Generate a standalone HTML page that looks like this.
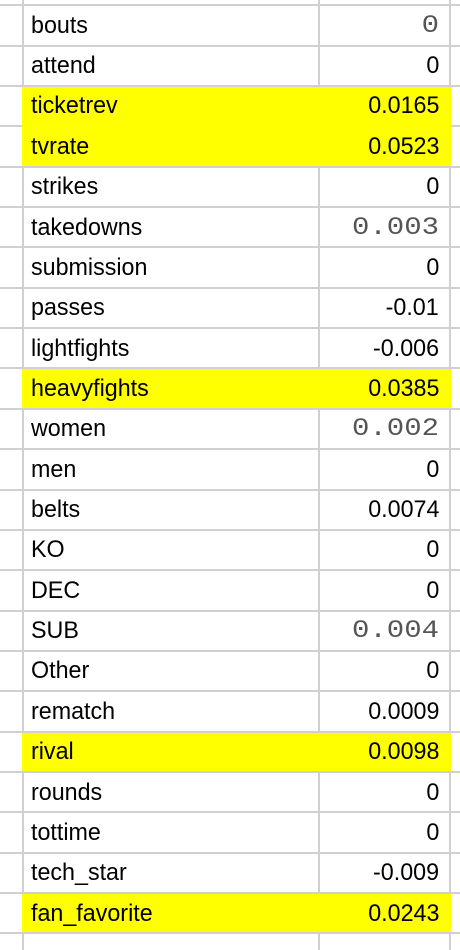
<!DOCTYPE html>
<html><head><meta charset="utf-8"><style>
body{margin:0;width:460px;height:950px;background:#fff;overflow:hidden;position:relative;font-family:"Liberation Sans",sans-serif;}
.hl{position:absolute;left:0;width:460px;height:2px;background:#d0d0d0;}
.vl{position:absolute;top:0;width:2px;height:950px;background:#d0d0d0;}
.yel{position:absolute;left:22px;width:429px;background:#ffff00;}
.lbl{position:absolute;left:31px;font-size:24px;color:#000;line-height:40px;transform:scaleX(0.97);transform-origin:left center;}
.val{position:absolute;right:21px;font-size:24px;color:#000;line-height:40px;transform:scaleX(0.97);transform-origin:right center;}
.mono{font-family:"Liberation Mono",monospace;font-size:29px;color:#555;transform:scaleY(0.85);}
</style></head><body>
<div id="grid"></div>
<script>
const labels=["bouts","attend","ticketrev","tvrate","strikes","takedowns","submission","passes","lightfights","heavyfights","women","men","belts","KO","DEC","SUB","Other","rematch","rival","rounds","tottime","tech_star","fan_favorite"];
const values=["0","0","0.0165","0.0523","0","0.003","0","-0.01","-0.006","0.0385","0.002","0","0.0074","0","0","0.004","0","0.0009","0.0098","0","0","-0.009","0.0243"];
const highlighted=[false,false,true,true,false,false,false,false,false,true,false,false,false,false,false,false,false,false,true,false,false,false,true];
const monoCells=[true,false,false,false,false,true,false,false,false,false,true,false,false,false,false,true,false,false,false,false,false,false,false];
const g=document.getElementById('grid');
const top0=4.7,rh=40.36;
for(let i=0;i<=labels.length;i++){
  const y=top0+i*rh;
  const l=document.createElement('div');l.className='hl';
  
  
  l.style.top=(y-0.5)+'px';
  g.appendChild(l);
}
[22,318,449].forEach(x=>{const v=document.createElement('div');v.className='vl';v.style.left=x+'px';


g.appendChild(v);});
for(let i=0;i<labels.length;i++){
  const y=top0+i*rh;
  if(highlighted[i]){
    const yb=document.createElement('div');yb.className='yel';
    
    
    const startsRun=!(i>0&&highlighted[i-1]);
    const endsRun=!(i<labels.length-1&&highlighted[i+1]);
    const t=startsRun?y+1.5:y-0.5;
    const b=endsRun?y+rh-0.5:y+rh+1.5;
    yb.style.top=t+'px';yb.style.height=(b-t)+'px';g.appendChild(yb);
  }
}
for(let i=0;i<labels.length;i++){
  const y=top0+i*rh;
  const a=document.createElement('div');a.className='lbl';a.textContent=labels[i];a.style.top=(y+1)+'px';
  
  
  g.appendChild(a);
  const b=document.createElement('div');b.className='val'+(monoCells[i]?' mono':'');b.textContent=values[i];b.style.top=(y+1)+'px';
  
  
  g.appendChild(b);
}
</script>
</body></html>
